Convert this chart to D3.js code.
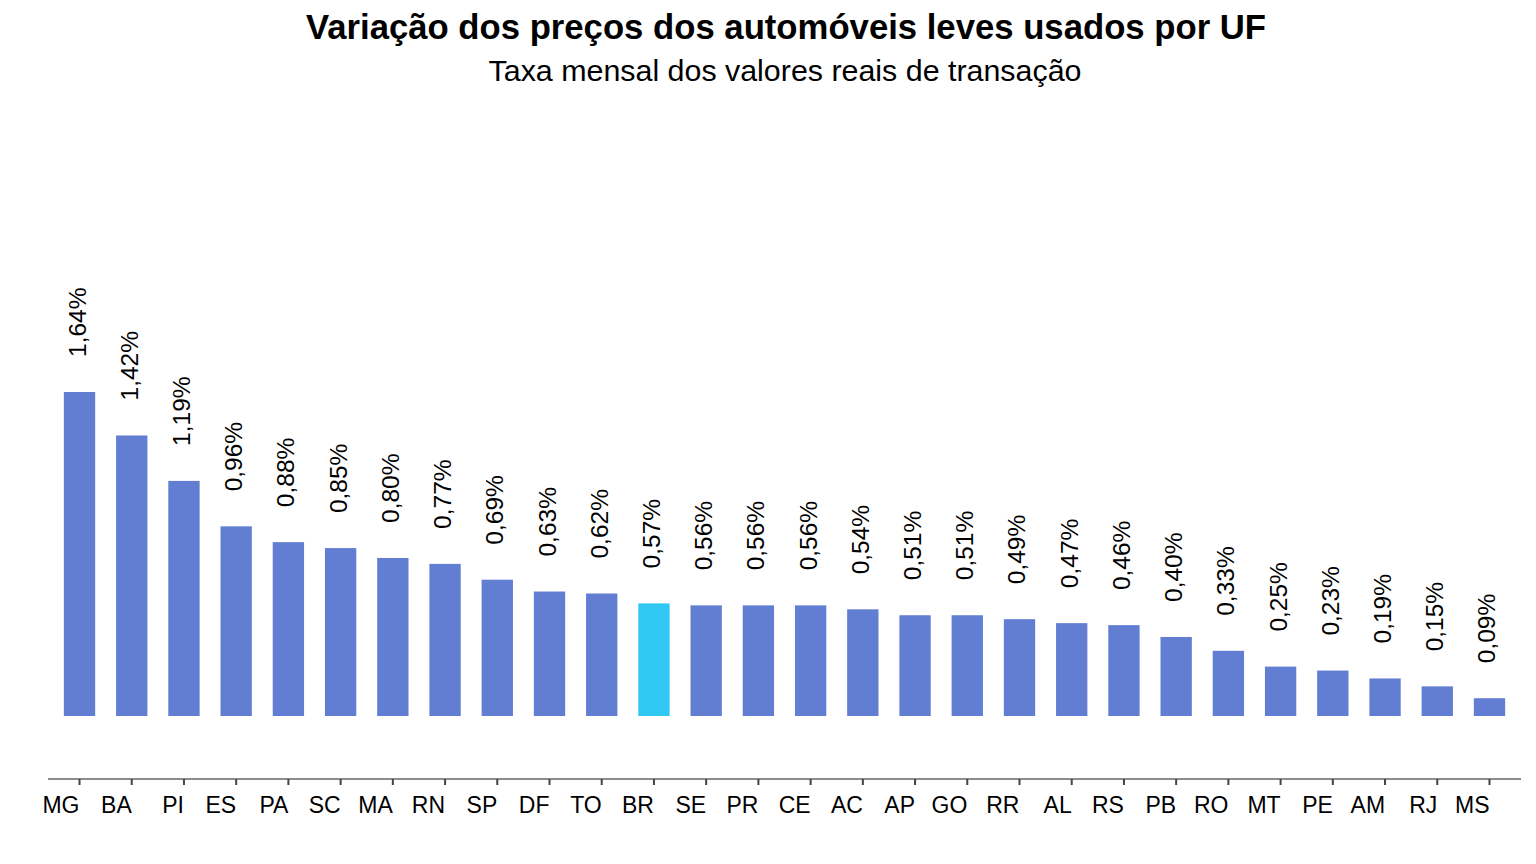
<!DOCTYPE html>
<html>
<head>
<meta charset="utf-8">
<script src="https://cdn.jsdelivr.net/npm/d3@7"></script>
<style>
  body { margin: 0; background: #fff; }
  text { font-family: "Liberation Sans", Arial, sans-serif; fill: #000; }
</style>
</head>
<body>
<svg id="bar_chart"></svg>
<script>
let ufs = ["MG", "BA", "PI", "ES", "PA", "SC", "MA", "RN", "SP", "DF", "TO", "BR", "SE", "PR",
           "CE", "AC", "AP", "GO", "RR", "AL", "RS", "PB", "RO", "MT", "PE", "AM", "RJ", "MS"];
let taxas = [1.64, 1.42, 1.19, 0.96, 0.88, 0.85, 0.80, 0.77, 0.69, 0.63, 0.62, 0.57, 0.56, 0.56,
             0.56, 0.54, 0.51, 0.51, 0.49, 0.47, 0.46, 0.40, 0.33, 0.25, 0.23, 0.19, 0.15, 0.09];
let destaque = "BR";

function makeBarChart() {

    let w = 1536;
    let h = 864;

    let svg = d3.select('#bar_chart')
        .attr('width', w)
        .attr('height', h);

    let dataset = ufs.map((d, i) => ({ uf: d, taxa: taxas[i] }));

    let xScale = d3
        .scaleBand()
        .domain(ufs)
        .range([53.4, 1515.6])
        .paddingInner(0.4)
        .paddingOuter(0.2);

    let yScale = d3
        .scaleLinear()
        .domain([0, 1.64])
        .range([716, 392]);

    // axis sits lower than zero line
    let xAxis = d3.axisBottom(xScale)
        .tickSize(6)
        .tickSizeOuter(0);
    let xAxisGroup = svg
        .append("g")
        .attr("transform", `translate(0, 779)`)
        .call(xAxis);
    xAxisGroup.select(".domain")
        .attr("d", "M48,0H1521")
        .attr("stroke", "#8c8c8c")
        .attr("stroke-width", 2);
    xAxisGroup.selectAll(".tick line")
        .attr("stroke", "#444")
        .attr("stroke-width", 2);
    xAxisGroup.selectAll(".tick text")
        .attr("text-anchor", "end")
        .attr("x", 0)
        .attr("y", 34)
        .attr("dy", null)
        .attr("fill", "#000")
        .style("font-size", "23px")
        .style("font-family", '"Liberation Sans", Arial, sans-serif');

    svg.append("g")
        .selectAll("rect")
        .data(dataset)
        .enter()
        .append("rect")
        .attr("x", d => xScale(d.uf))
        .attr("y", d => yScale(d.taxa))
        .attr("width", xScale.bandwidth())
        .attr("height", d => yScale(0) - yScale(d.taxa))
        .attr("fill", d => d.uf === destaque ? "#30c8f2" : "#627ed3");

    svg.append("g")
        .selectAll("text")
        .data(dataset)
        .enter()
        .append("text")
        .attr("transform", d => `translate(${xScale(d.uf) + xScale.bandwidth() / 2 + 6}, ${yScale(d.taxa) - 35}) rotate(-90)`)
        .attr("text-anchor", "start")
        .style("font-size", "24.5px")
        .text(d => d3.format(".2f")(d.taxa).replace(".", ",") + "%");

    svg.append("text")
        .attr("x", 786)
        .attr("y", 39)
        .attr("text-anchor", "middle")
        .style("font-size", "34.7px")
        .style("font-weight", "bold")
        .text("Variação dos preços dos automóveis leves usados por UF");

    svg.append("text")
        .attr("x", 785)
        .attr("y", 81)
        .attr("text-anchor", "middle")
        .style("font-size", "30.4px")
        .text("Taxa mensal dos valores reais de transação");
}

window.onload = function() {
    makeBarChart();
}
</script>
</body>
</html>
